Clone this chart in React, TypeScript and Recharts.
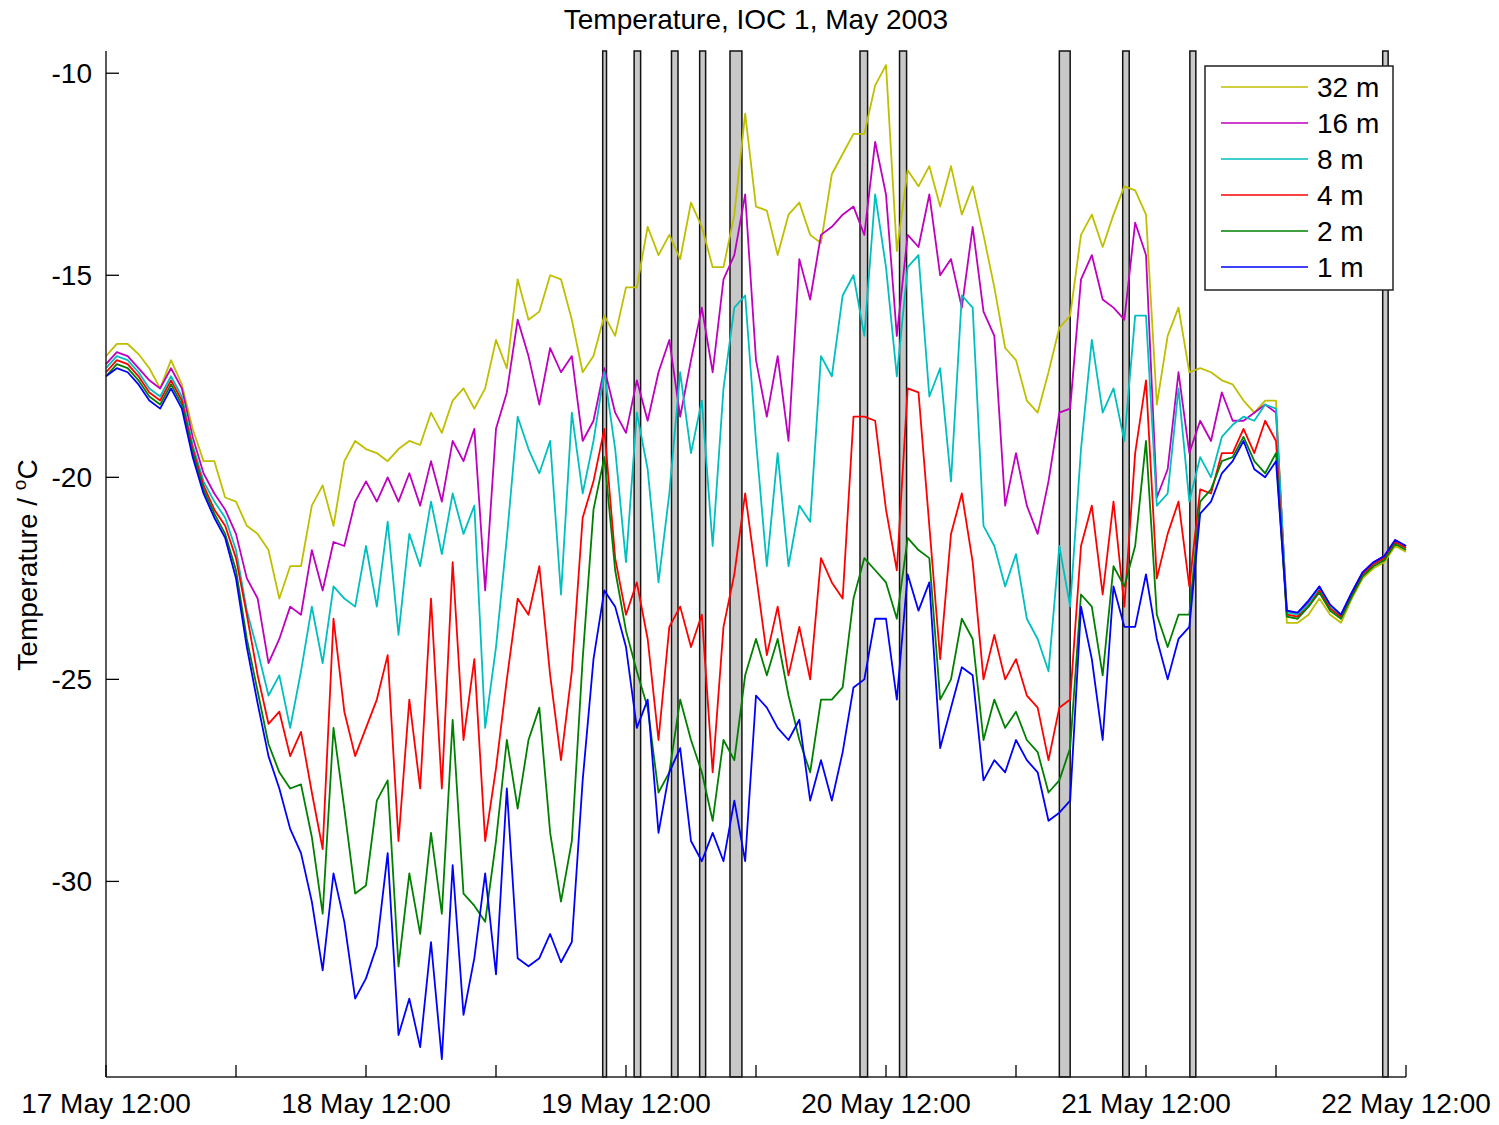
import { Legend, Line, LineChart, ReferenceArea, XAxis, YAxis } from "recharts";

// hours after 17 May 12:00
const HOURS = [
  0, 1, 2, 3, 4, 5, 6, 7, 8, 9, 10, 11, 12, 13, 14, 15, 16, 17, 18, 19,
  20, 21, 22, 23, 24, 25, 26, 27, 28, 29, 30, 31, 32, 33, 34, 35, 36, 37, 38, 39,
  40, 41, 42, 43, 44, 45, 46, 47, 48, 49, 50, 51, 52, 53, 54, 55, 56, 57, 58, 59,
  60, 61, 62, 63, 64, 65, 66, 67, 68, 69, 70, 71, 72, 73, 74, 75, 76, 77, 78, 79,
  80, 81, 82, 83, 84, 85, 86, 87, 88, 89, 90, 91, 92, 93, 94, 95, 96, 97, 98, 99,
  100, 101, 102, 103, 104, 105, 106, 107, 108, 109, 110, 111, 112, 113, 114, 115, 116, 117, 118, 119,
  120,
];

const X_TICKS = [0, 12, 24, 36, 48, 60, 72, 84, 96, 108, 120];
const DAY_LABELS = ["17 May 12:00", "18 May 12:00", "19 May 12:00", "20 May 12:00", "21 May 12:00", "22 May 12:00"];
const Y_TICKS = [-30, -25, -20, -15, -10];
const DEPTHS = ["32 m", "16 m", "8 m", "4 m", "2 m", "1 m"];

const T_32M = [
  -17.0, -16.7, -16.7, -16.95, -17.3, -17.8, -17.1, -17.7, -18.8, -19.6,
  -19.6, -20.5, -20.6, -21.2, -21.4, -21.8, -23.0, -22.2, -22.2, -20.7,
  -20.2, -21.2, -19.6, -19.1, -19.3, -19.4, -19.6, -19.3, -19.1, -19.2,
  -18.4, -18.9, -18.1, -17.8, -18.3, -17.8, -16.6, -17.3, -15.1, -16.1,
  -15.9, -15.0, -15.1, -16.1, -17.4, -17.0, -16.0, -16.5, -15.3, -15.3,
  -13.8, -14.5, -14.0, -14.6, -13.2, -13.8, -14.8, -14.8, -13.5, -11.0,
  -13.3, -13.4, -14.5, -13.5, -13.2, -14.0, -14.2, -12.5, -12.0, -11.5,
  -11.5, -10.3, -9.8, -14.4, -12.4, -12.8, -12.3, -13.3, -12.3, -13.5,
  -12.8, -14.0, -15.3, -16.8, -17.1, -18.1, -18.4, -17.4, -16.3, -16.0,
  -14.0, -13.5, -14.3, -13.5, -12.8, -12.9, -13.5, -18.2, -16.5, -15.8,
  -17.4, -17.3, -17.4, -17.6, -17.7, -18.1, -18.4, -18.1, -18.1, -23.6,
  -23.6, -23.4, -23.0, -23.4, -23.6, -23.0, -22.5, -22.25, -22.1, -21.7,
  -21.85,
];

const T_16M = [
  -17.2, -16.9, -17.0, -17.3, -17.6, -17.8, -17.3, -17.8, -19.0, -19.9,
  -20.4, -20.8, -21.4, -22.5, -23.0, -24.6, -24.0, -23.2, -23.4, -21.8,
  -22.8, -21.6, -21.7, -20.6, -20.1, -20.6, -20.0, -20.6, -19.9, -20.7,
  -19.6, -20.6, -19.1, -19.6, -18.8, -22.8, -18.8, -17.9, -16.1, -17.0,
  -18.2, -16.8, -17.4, -17.0, -19.1, -18.6, -17.3, -18.4, -18.9, -17.6,
  -18.6, -17.4, -16.6, -18.5, -17.1, -15.8, -17.4, -15.1, -14.5, -13.0,
  -17.1, -18.5, -17.0, -19.1, -14.6, -15.6, -14.0, -13.8, -13.5, -13.3,
  -14.0, -11.7, -13.0, -16.5, -14.0, -14.3, -13.0, -15.0, -14.6, -15.8,
  -13.8, -15.9, -16.5, -20.7, -19.4, -20.7, -21.4, -20.1, -18.4, -18.3,
  -15.1, -14.5, -15.6, -15.8, -16.1, -13.7, -14.5, -20.5, -19.8, -17.4,
  -19.4, -18.6, -19.1, -17.9, -18.6, -18.6, -18.4, -18.2, -18.4, -23.3,
  -23.4, -23.1, -22.7, -23.2, -23.4, -22.85, -22.35, -22.1, -21.95, -21.55,
  -21.7,
];

const T_8M = [
  -17.3, -17.0, -17.1, -17.4, -17.8, -18.0, -17.5, -18.0, -19.2, -20.1,
  -20.6, -21.0, -21.8, -23.3, -24.3, -25.4, -24.9, -26.2, -24.8, -23.2,
  -24.6, -22.7, -23.0, -23.2, -21.7, -23.2, -21.1, -23.9, -21.4, -22.2,
  -20.6, -21.9, -20.4, -21.4, -20.7, -26.2, -24.2, -21.5, -18.5, -19.3,
  -19.9, -19.1, -22.9, -18.4, -20.4, -19.1, -17.4, -19.3, -22.1, -18.4,
  -19.8, -22.6, -20.4, -17.4, -19.4, -18.1, -21.7, -17.8, -15.8, -15.5,
  -19.1, -22.2, -19.4, -22.2, -20.7, -21.1, -17.0, -17.5, -15.5, -15.0,
  -16.5, -13.0, -14.8, -17.5, -14.8, -14.5, -18.0, -17.3, -20.1, -15.5,
  -15.8, -21.2, -21.7, -22.7, -21.9, -23.5, -24.0, -24.8, -21.7, -23.2,
  -19.3, -16.6, -18.4, -17.8, -19.1, -16.0, -16.0, -20.7, -20.4, -17.8,
  -20.6, -19.5, -20.0, -19.0, -18.7, -18.5, -18.6, -18.2, -18.3, -23.35,
  -23.4, -23.15, -22.75, -23.2, -23.4, -22.9, -22.4, -22.15, -22.0, -21.6,
  -21.75,
];

const T_4M = [
  -17.4, -17.1, -17.2, -17.5, -17.9, -18.1, -17.6, -18.1, -19.3, -20.2,
  -20.8, -21.2, -22.0, -23.4, -24.9, -26.1, -25.8, -26.9, -26.3, -27.8,
  -29.2, -23.5, -25.8, -26.9, -26.2, -25.5, -24.4, -29.0, -25.5, -27.7,
  -23.0, -27.7, -22.1, -26.5, -24.5, -29.0, -27.2, -25.0, -23.0, -23.4,
  -22.2, -24.9, -27.0, -24.8, -21.0, -20.1, -18.8, -22.0, -23.4, -22.6,
  -24.0, -26.5, -23.7, -23.2, -24.2, -23.4, -27.3, -23.7, -22.4, -20.4,
  -22.4, -24.4, -23.2, -24.9, -23.7, -25.0, -22.0, -22.6, -23.0, -18.5,
  -18.5, -18.6, -20.8, -22.3, -17.8, -17.9, -21.2, -24.5, -21.4, -20.4,
  -22.1, -25.0, -23.9, -25.0, -24.5, -25.4, -25.7, -27.0, -25.7, -25.5,
  -21.7, -20.7, -22.9, -20.6, -23.2, -19.4, -17.6, -22.5, -21.4, -20.6,
  -22.7, -20.3, -20.4, -19.4, -19.4, -18.8, -19.4, -18.6, -19.1, -23.4,
  -23.45, -23.2, -22.8, -23.25, -23.45, -22.9, -22.4, -22.15, -22.0, -21.6,
  -21.75,
];

const T_2M = [
  -17.5, -17.2, -17.3, -17.6, -18.0, -18.2, -17.7, -18.2, -19.4, -20.3,
  -20.9, -21.4, -22.3, -24.0, -25.3, -26.6, -27.3, -27.7, -27.6, -28.9,
  -30.8, -26.2, -28.2, -30.3, -30.1, -28.0, -27.5, -32.1, -29.8, -31.3,
  -28.8, -30.8, -26.0, -30.3, -30.6, -31.0, -29.0, -26.5, -28.2, -26.5,
  -25.7, -28.8, -30.5, -29.0, -24.5, -20.8, -19.5, -22.3, -23.8, -24.8,
  -25.7, -27.8, -27.3, -25.5, -26.5, -27.3, -28.5, -26.5, -27.0, -24.9,
  -24.0, -24.9, -24.0, -25.4, -26.5, -27.3, -25.5, -25.5, -25.2, -23.0,
  -22.0, -22.3, -22.6, -23.5, -21.5, -21.8, -22.0, -25.5, -25.0, -23.5,
  -24.0, -26.5, -25.5, -26.2, -25.8, -26.5, -26.8, -27.8, -27.5, -26.7,
  -22.9, -23.2, -24.9, -22.2, -22.7, -21.7, -19.1, -23.4, -24.2, -23.4,
  -23.4, -20.6, -20.3, -19.6, -19.5, -19.0, -19.6, -19.9, -19.4, -23.45,
  -23.5, -23.2, -22.85, -23.3, -23.5, -22.95, -22.45, -22.2, -22.05, -21.65,
  -21.8,
];

const T_1M = [
  -17.5, -17.3, -17.4, -17.7, -18.1, -18.3, -17.8, -18.3, -19.5, -20.4,
  -21.0, -21.5, -22.5, -24.2, -25.6, -26.9, -27.7, -28.7, -29.3, -30.5,
  -32.2, -29.8, -31.0, -32.9, -32.4, -31.6, -29.3, -33.8, -32.9, -34.1,
  -31.5, -34.4, -29.6, -33.3, -31.9, -29.8, -32.3, -27.7, -31.9, -32.1,
  -31.9, -31.3, -32.0, -31.5, -27.5, -24.5, -22.8, -23.2, -24.2, -26.2,
  -25.5, -28.8, -27.3, -26.7, -29.0, -29.5, -28.8, -29.5, -28.0, -29.5,
  -25.4, -25.7, -26.2, -26.5, -26.0, -28.0, -27.0, -28.0, -26.8, -25.2,
  -25.0, -23.5, -23.5, -25.5, -22.4, -23.3, -22.6, -26.7, -25.7, -24.7,
  -24.9, -27.5, -27.0, -27.3, -26.5, -27.0, -27.3, -28.5, -28.3, -28.0,
  -23.2, -24.5, -26.5, -22.7, -23.7, -23.7, -22.4, -24.0, -25.0, -24.0,
  -23.7, -20.9, -20.6, -19.9, -19.6, -19.1, -19.8, -20.0, -19.6, -23.3,
  -23.35, -23.05, -22.7, -23.15, -23.4, -22.85, -22.35, -22.1, -21.95, -21.55,
  -21.7,
];

// shaded gaps (hours)
const GAP_START = [45.85, 48.75, 52.2, 54.8, 57.6, 69.6, 73.25, 88.0, 93.85, 100.05, 117.85];
const GAP_END = [46.2, 49.35, 52.8, 55.35, 58.7, 70.3, 73.9, 89.0, 94.45, 100.6, 118.35];

const COLORS = ["#bfbf00", "#bf00bf", "#00bfbf", "#ff0000", "#008000", "#0000ff"];
const VALUES = [T_32M, T_16M, T_8M, T_4M, T_2M, T_1M];
const FONT = "'Liberation Sans', Arial, Helvetica, sans-serif";

const rows = HOURS.map((h, i) => {
  const row: Record<string, number> = { h };
  VALUES.forEach((vals, k) => {
    row[`s${k}`] = vals[i];
  });
  return row;
});

function BottomTick(props: any) {
  const { x, y, payload } = props;
  const v = payload.value as number;
  const label = v % 24 === 0 ? DAY_LABELS[v / 24] : "";
  return (
    <g>
      <line x1={x} y1={y} x2={x} y2={y - 12} stroke="#000" strokeWidth={1.3} />
      {label ? (
        <text x={x} y={y + 26} textAnchor="middle" dominantBaseline="central" fontSize={28} fontFamily={FONT} fill="#000">
          {label}
        </text>
      ) : null}
    </g>
  );
}

function TopTick(props: any) {
  const { x, y } = props;
  return <line x1={x} y1={y} x2={x} y2={y + 12} stroke="#000" strokeWidth={1.3} />;
}

function LeftTick(props: any) {
  const { x, y, payload } = props;
  return (
    <g>
      <line x1={x} y1={y} x2={x + 13} y2={y} stroke="#000" strokeWidth={1.3} />
      <text x={x - 14} y={y} textAnchor="end" dominantBaseline="central" fontSize={28} fontFamily={FONT} fill="#000">
        {String(payload.value)}
      </text>
    </g>
  );
}

function RightTick(props: any) {
  const { x, y } = props;
  return <line x1={x} y1={y} x2={x - 13} y2={y} stroke="#000" strokeWidth={1.3} />;
}

function DepthLegend() {
  return (
    <svg width={190} height={226} style={{ display: "block" }}>
      <rect x={1} y={1} width={188} height={224} fill="#fff" stroke="#222" strokeWidth={1.5} />
      {DEPTHS.map((d, i) => {
        const cy = 22 + i * 36;
        return (
          <g key={d}>
            <line x1={17} x2={104} y1={cy} y2={cy} stroke={COLORS[i]} strokeWidth={1.5} />
            <text x={113} y={cy} dominantBaseline="central" fontSize={28} fontFamily={FONT} fill="#000">
              {d}
            </text>
          </g>
        );
      })}
    </svg>
  );
}

export default function App() {
  return (
    <div style={{ position: "absolute", left: 0, top: 0, width: 1499, height: 1125, background: "#fff", fontFamily: FONT }}>
      <LineChart width={1499} height={1125} data={rows} margin={{ top: 51, right: 93, bottom: 0, left: 0 }}>
        {GAP_START.map((s, i) => (
          <ReferenceArea
            key={`gap${i}`}
            x1={s}
            x2={GAP_END[i]}
            y1={-34.84}
            y2={-9.45}
            fill="#c8c8c8"
            fillOpacity={1}
            stroke="#111"
            strokeWidth={1.5}
          />
        ))}
        <XAxis
          dataKey="h"
          type="number"
          domain={[0, 120]}
          ticks={X_TICKS}
          interval={0}
          height={48}
          tickSize={0}
          tickMargin={0}
          tickLine={false}
          tick={<BottomTick />}
          axisLine={{ stroke: "#222", strokeWidth: 1.5 }}
        />
        <XAxis
          xAxisId="top"
          orientation="top"
          dataKey="h"
          type="number"
          domain={[0, 120]}
          ticks={X_TICKS}
          interval={0}
          height={0}
          tickSize={0}
          tickMargin={0}
          tickLine={false}
          tick={<TopTick />}
          axisLine={{ stroke: "#222", strokeWidth: 1.5 }}
        />
        <YAxis
          type="number"
          domain={[-34.84, -9.45]}
          allowDataOverflow
          ticks={Y_TICKS}
          interval={0}
          width={106}
          tickSize={0}
          tickMargin={0}
          tickLine={false}
          tick={<LeftTick />}
          axisLine={{ stroke: "#222", strokeWidth: 1.5 }}
        />
        <YAxis
          yAxisId="right"
          orientation="right"
          type="number"
          domain={[-34.84, -9.45]}
          allowDataOverflow
          ticks={Y_TICKS}
          interval={0}
          width={0}
          tickSize={0}
          tickMargin={0}
          tickLine={false}
          tick={<RightTick />}
          axisLine={{ stroke: "#222", strokeWidth: 1.5 }}
        />
        {DEPTHS.map((d, k) => (
          <Line
            key={d}
            type="linear"
            dataKey={`s${k}`}
            name={d}
            stroke={COLORS[k]}
            strokeWidth={1.8}
            strokeLinejoin="round"
            dot={false}
            activeDot={false}
            isAnimationActive={false}
          />
        ))}
        <Legend
          layout="vertical"
          align="center"
          verticalAlign="middle"
          wrapperStyle={{ top: 65, left: 1204, width: 190, height: 226 }}
          content={() => <DepthLegend />}
        />
      </LineChart>
      <svg
        width={1499}
        height={1125}
        style={{ position: "absolute", left: 0, top: 0, pointerEvents: "none" }}
      >
        <text x={756} y={29} textAnchor="middle" fontSize={28} fontFamily={FONT} fill="#000">
          Temperature, IOC 1, May 2003
        </text>
        <text
          x={37}
          y={565}
          transform="rotate(-90 37 565)"
          textAnchor="middle"
          fontSize={28}
          fontFamily={FONT}
          fill="#000"
        >
          Temperature /{" "}
          <tspan fontSize={19} dy={-11}>
            o
          </tspan>
          <tspan dy={11}>C</tspan>
        </text>
      </svg>
    </div>
  );
}
